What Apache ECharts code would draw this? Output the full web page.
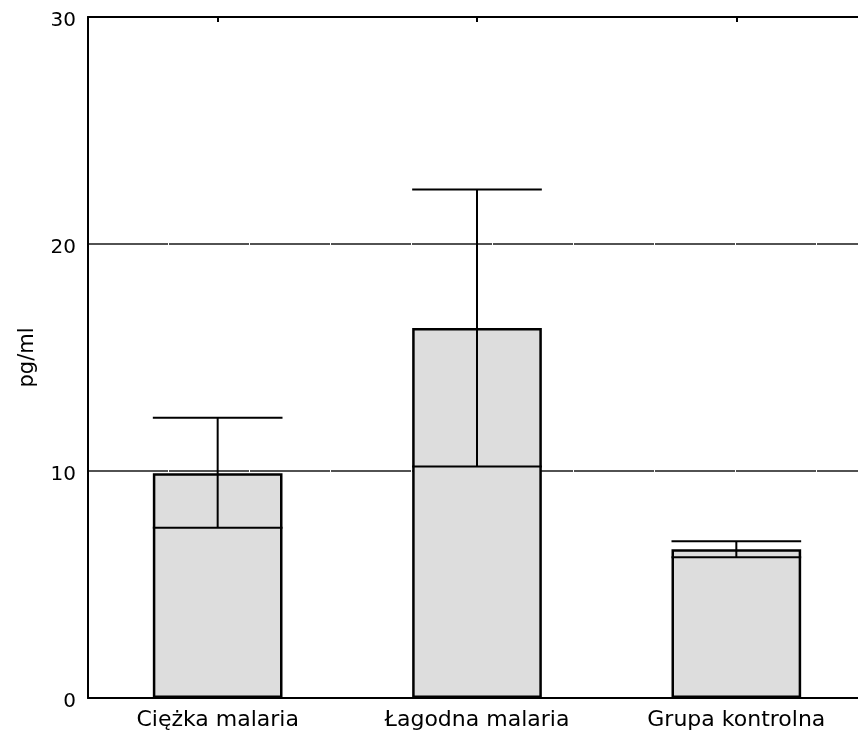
<!DOCTYPE html>
<html>
<head>
<meta charset="utf-8">
<script src="https://cdn.jsdelivr.net/npm/echarts@6/dist/echarts.min.js"></script>
<style>
html,body{margin:0;padding:0;background:#fff;overflow:hidden;width:858px;height:742px;}
#chart{width:868px;height:742px;}
</style>
</head>
<body>
<div id="chart"></div>
<script>
var categories = ['Ciężka malaria', 'Łagodna malaria', 'Grupa kontrolna'];
var means = [9.9, 16.3, 6.55];
var lowerBounds = [7.5, 10.2, 6.2];
var upperBounds = [12.35, 22.4, 6.9];
var yTicks = [0, 10, 20, 30];
var yLabel = 'pg/ml';

var FONT = '"DejaVu Sans", Verdana, sans-serif';

var errData = categories.map(function (c, i) {
  return [i, lowerBounds[i], upperBounds[i]];
});

function renderErr(params, api) {
  var x = api.value(0), lo = api.value(1), hi = api.value(2);
  var pLo = api.coord([x, lo]);
  var pHi = api.coord([x, hi]);
  var half = api.size([1, 0])[0] * 0.5 / 2;
  var st = { stroke: '#000', lineWidth: 2 };
  return {
    type: 'group',
    children: [
      { type: 'line', shape: { x1: pLo[0], y1: pLo[1], x2: pHi[0], y2: pHi[1] }, style: st },
      { type: 'line', shape: { x1: pHi[0] - half, y1: pHi[1], x2: pHi[0] + half, y2: pHi[1] }, style: st },
      { type: 'line', shape: { x1: pLo[0] - half, y1: pLo[1], x2: pLo[0] + half, y2: pLo[1] }, style: st }
    ]
  };
}

var chart = echarts.init(document.getElementById('chart'), null, { renderer: 'canvas' });
chart.setOption({
  animation: false,
  backgroundColor: '#fff',
  grid: { left: 88, top: 17, width: 778, height: 681, containLabel: false },
  xAxis: [
    {
      type: 'category',
      data: categories,
      position: 'bottom',
      axisLine: { lineStyle: { color: '#000', width: 2 } },
      axisTick: { show: true, inside: true, alignWithLabel: true, length: 5, lineStyle: { color: '#000', width: 2 } },
      axisLabel: { color: '#000', fontFamily: FONT, fontSize: 22, margin: 11 },
      splitLine: { show: false }
    },
    {
      type: 'category',
      data: categories,
      position: 'top',
      axisLine: { lineStyle: { color: '#000', width: 2 } },
      axisTick: { show: true, inside: true, alignWithLabel: true, length: 5, lineStyle: { color: '#000', width: 2 } },
      axisLabel: { show: false },
      splitLine: { show: false }
    }
  ],
  yAxis: {
    type: 'value',
    min: yTicks[0],
    max: yTicks[yTicks.length - 1],
    interval: 10,
    name: yLabel,
    nameLocation: 'middle',
    nameGap: 50,
    nameTextStyle: { color: '#000', fontFamily: FONT, fontSize: 21 },
    axisLine: { show: true, lineStyle: { color: '#000', width: 2 } },
    axisTick: { show: false },
    axisLabel: {
      color: '#000', fontFamily: FONT, fontSize: 20, margin: 12,
      formatter: '{v|{value}}',
      rich: { v: { color: '#000', fontFamily: FONT, fontSize: 20, padding: [8, 0, 0, 0] } }
    },
    splitLine: { show: true, lineStyle: { color: '#1a1a1a', width: 1.5, type: [80, 1] } }
  },
  series: [
    {
      type: 'bar',
      data: means,
      barWidth: '50%',
      itemStyle: { color: '#dddddd', borderColor: '#000', borderWidth: 2.5 },
      z: 2
    },
    {
      type: 'custom',
      data: errData,
      renderItem: renderErr,
      encode: { x: 0, y: [1, 2] },
      z: 3
    }
  ]
});
</script>
</body>
</html>
